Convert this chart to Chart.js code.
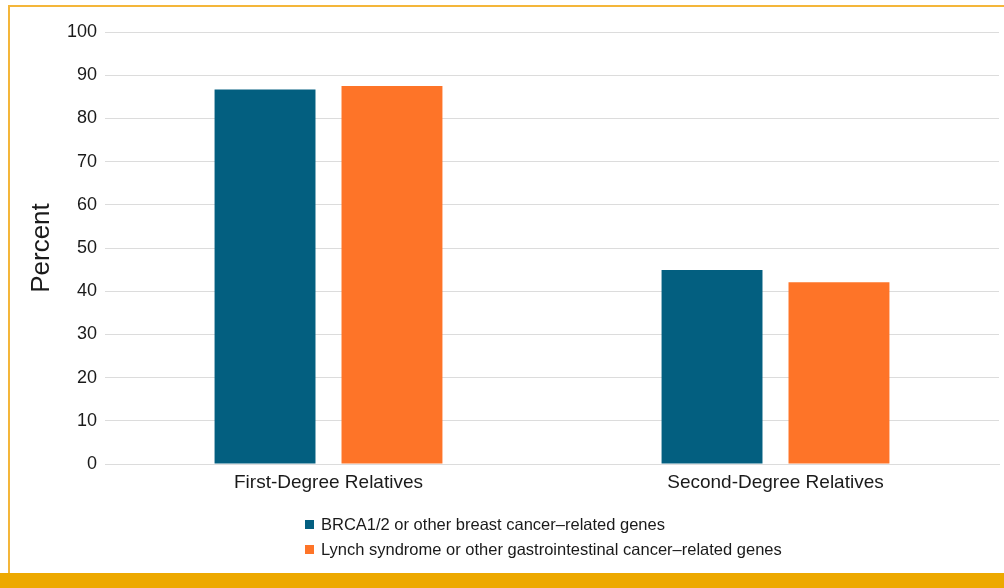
<!DOCTYPE html>
<html>
<head>
<meta charset="utf-8">
<script src="https://cdn.jsdelivr.net/npm/chart.js@4"></script>
<style>
  html, body { margin: 0; padding: 0; background: #ffffff; }
  body { width: 1004px; height: 588px; position: relative; overflow: hidden; font-family: "Liberation Sans", Arial, sans-serif; }
  #frame { position: absolute; left: 8px; top: 5px; width: 996px; height: 568px;
           border-top: 2px solid #F4B63A; border-left: 2px solid #F4B63A; border-right: none; border-bottom: none;
           box-sizing: border-box; }
  #band { position: absolute; left: 0; top: 573px; width: 1004px; height: 15px; background: #EDA900; }
  #wrap { position: absolute; left: 0; top: 0; width: 1004px; height: 588px; }
  #legend { position: absolute; left: 305px; top: 512px; margin: 0; padding: 0; list-style: none; }
  #legend li { display: flex; align-items: center; height: 25px; font-size: 16.5px; color: #1a1a1a; white-space: nowrap; }
  #legend li span.box { display: inline-block; width: 9px; height: 9px; margin-right: 7px; }
</style>
</head>
<body>
<div id="frame"></div>
<div id="band"></div>
<div id="wrap"><canvas id="chart" width="1004" height="588"></canvas></div>
<ul id="legend"></ul>
<script>
const categories = ["First-Degree Relatives", "Second-Degree Relatives"];
const seriesNames = [
  "BRCA1/2 or other breast cancer\u2013related genes",
  "Lynch syndrome or other gastrointestinal cancer\u2013related genes"
];
const brcaValues = [86.7, 44.9];
const lynchValues = [87.5, 42.1];
const yTicks = [0, 10, 20, 30, 40, 50, 60, 70, 80, 90, 100];

const colors = ["#035F80", "#FE7428"];
const font = "'Liberation Sans', Arial, sans-serif";

const chart = new Chart(document.getElementById("chart"), {
  type: "bar",
  data: {
    labels: categories,
    datasets: [
      { label: seriesNames[0], data: brcaValues, backgroundColor: colors[0] },
      { label: seriesNames[1], data: lynchValues, backgroundColor: colors[1] }
    ]
  },
  options: {
    responsive: false,
    animation: false,
    layout: { padding: { left: 0, top: 32, right: 5, bottom: 94 } },
    datasets: { bar: { categoryPercentage: 0.568, barPercentage: 0.795 } },
    plugins: { legend: { display: false }, tooltip: { enabled: false } },
    scales: {
      x: {
        grid: { display: false, drawTicks: false },
        border: { display: true, color: "#dcdcdc", width: 1 },
        ticks: { color: "#1a1a1a", font: { family: font, size: 19 }, padding: 7 },
        afterFit: s => { s.height = 30; }
      },
      y: {
        min: 0, max: 100,
        afterBuildTicks: s => { s.ticks = yTicks.map(v => ({ value: v })); },
        grid: { color: "#dcdcdc", lineWidth: 1, drawTicks: false },
        border: { display: false },
        ticks: { color: "#1a1a1a", font: { family: font, size: 18 }, padding: 8 },
        title: { display: true, text: "Percent", color: "#1a1a1a",
                 font: { family: font, size: 26 }, padding: { top: 26, bottom: 0 } },
        afterFit: s => { s.width = 105; }
      }
    }
  }
});

// HTML legend, stacked in two rows, built from the chart's datasets
const legend = document.getElementById("legend");
chart.data.datasets.forEach(ds => {
  const li = document.createElement("li");
  const box = document.createElement("span");
  box.className = "box";
  box.style.background = ds.backgroundColor;
  li.appendChild(box);
  li.appendChild(document.createTextNode(ds.label));
  legend.appendChild(li);
});
</script>
</body>
</html>
